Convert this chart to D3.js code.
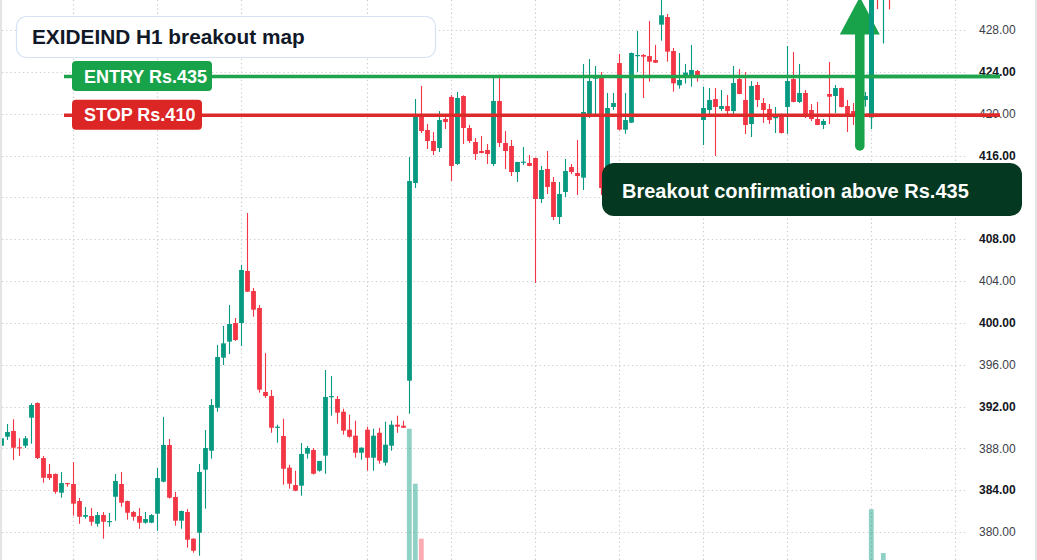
<!DOCTYPE html>
<html><head><meta charset="utf-8">
<script src="https://cdn.jsdelivr.net/npm/d3@7"></script>
<style>
html,body{margin:0;padding:0;background:#fff;overflow:hidden}
svg{display:block}
text{font-family:"Liberation Sans",Arial,Helvetica,sans-serif}
</style></head>
<body>
<svg id="chart" width="1037" height="560"></svg>
<script>
// ---- data (H1 bars, left to right) ----
const opens  = [388.25,389.11,389.66,388.10,388.25,390.93,392.33,387.07,385.55,385.55,383.76,384.68,384.59,382.96,381.46,381.53,380.79,381.62,380.98,383.37,
384.59,382.96,381.91,381.53,380.89,380.89,381.75,384.81,388.32,383.35,381.08,381.91,379.36,379.93,385.96,387.77,391.88,396.67,398.20,399.98,
399.98,404.96,403.04,401.42,393.39,393.00,389.97,389.18,386.15,384.49,384.43,387.49,387.84,385.86,387.30,392.91,392.72,391.50,389.78,389.21,
387.58,389.78,387.10,389.49,386.63,388.25,390.26,390.16,394.47,413.37,419.87,418.44,417.39,416.72,419.49,421.59,415.19,421.69,418.63,417.29,
416.43,416.53,415.19,421.21,417.20,416.91,414.42,415.31,415.28,415.76,411.84,414.71,413.47,410.12,412.51,414.90,414.33,413.88,419.78,423.34,
423.51,413.08,420.64,424.84,418.47,419.14,425.54,425.61,425.51,425.13,428.51,429.24,425.99,422.71,423.67,423.70,424.08,419.39,420.35,421.40,
420.45,420.73,420.25,423.31,421.31,419.01,422.74,421.02,420.45,419.59,419.97,420.64,423.31,421.12,421.98,420.35,419.49,418.92,421.88,421.69,
422.45,420.73,420.25,420.06,421.31,419.65,432.20,431.20,432.50];
const highs  = [389.08,390.33,390.78,388.96,389.18,392.31,392.40,387.27,386.50,385.60,385.74,384.70,386.69,383.25,382.39,382.29,381.91,381.91,381.82,385.55,
385.74,383.00,382.01,382.29,381.91,381.72,386.12,391.00,388.89,383.82,382.05,382.20,379.40,386.50,389.75,392.72,397.88,399.70,401.70,400.46,
405.53,410.50,403.33,401.70,397.11,393.58,390.26,390.83,386.43,385.86,388.51,388.22,388.03,386.80,395.49,394.92,393.00,391.79,391.22,390.64,
388.10,390.07,389.88,389.97,390.55,390.64,391.12,390.64,415.86,421.40,422.65,419.01,418.25,420.25,419.87,421.78,422.07,421.75,418.92,417.67,
417.86,417.10,423.53,423.73,418.34,417.48,415.40,416.81,416.05,415.80,415.00,416.43,413.94,413.47,415.67,415.19,417.48,424.75,425.23,424.56,
423.98,421.98,421.98,425.71,421.98,425.85,427.90,425.71,428.86,426.57,431.20,429.53,426.28,425.80,424.75,426.57,424.18,422.58,422.45,422.45,
422.26,421.78,424.56,424.27,423.98,423.12,423.03,421.50,420.92,420.64,420.00,426.47,425.90,424.75,422.26,420.92,421.12,419.49,424.94,422.74,
422.50,421.31,421.02,420.83,422.07,432.00,433.00,433.50,433.00];
const lows   = [388.13,388.80,386.88,387.27,388.03,388.44,386.98,384.71,384.97,383.66,383.28,384.33,381.56,380.79,381.27,380.60,380.51,379.36,380.51,381.08,
382.42,381.18,381.08,380.31,380.79,380.85,380.12,384.75,383.20,380.60,380.31,378.50,378.02,377.73,382.23,387.01,391.50,395.97,397.02,398.26,
397.78,402.95,400.59,393.32,392.81,389.49,388.54,384.52,384.14,383.90,383.47,387.01,385.50,385.77,385.57,391.12,390.36,389.30,389.02,387.10,
386.91,385.86,385.86,386.53,386.34,387.77,389.49,389.95,391.31,412.89,418.15,416.62,416.05,416.33,418.53,413.56,415.09,417.10,417.20,415.57,
416.20,415.19,415.00,416.81,414.71,414.04,413.47,415.09,414.98,403.81,411.46,412.32,409.83,409.45,412.03,414.23,412.22,412.70,419.59,419.97,
412.22,412.22,420.35,418.40,418.08,419.10,423.98,421.50,423.06,424.85,426.98,424.97,422.10,422.39,422.88,422.58,423.06,417.00,419.97,415.95,
420.25,419.97,419.97,421.85,418.06,417.77,420.64,419.11,419.01,418.15,418.10,418.06,421.10,421.02,419.59,419.30,418.90,418.53,419.01,420.06,
420.60,418.25,418.92,419.39,420.67,418.53,430.00,426.73,429.98];
const closes = [388.96,389.56,388.06,388.03,388.96,392.14,387.07,385.19,385.16,383.85,384.68,384.59,382.71,381.46,381.62,380.98,381.62,380.98,381.05,384.88,
382.80,381.84,381.46,380.89,381.24,381.62,385.16,388.32,383.28,381.08,382.01,379.26,378.21,385.74,388.03,392.14,396.73,398.04,399.89,398.36,
405.05,402.98,401.26,393.61,393.00,389.97,390.07,386.05,384.62,383.95,387.46,388.03,385.57,386.79,392.91,393.00,391.41,389.69,389.11,387.58,
388.06,387.10,389.21,386.82,388.35,390.26,390.07,389.97,413.56,419.87,418.34,417.39,416.43,419.39,419.20,415.00,421.50,418.63,417.39,416.14,
416.24,416.14,421.21,417.20,416.43,414.42,415.38,415.41,415.00,411.84,414.61,412.99,410.12,412.32,414.52,414.42,414.04,420.16,423.12,423.51,
412.89,420.54,421.02,418.47,419.39,425.80,425.61,425.45,424.97,424.87,429.41,425.93,422.90,423.22,423.92,424.18,423.67,420.54,421.31,420.64,
420.73,420.25,422.93,421.88,418.92,422.65,421.31,420.35,419.39,419.68,418.15,423.12,421.12,421.98,419.97,419.49,418.92,419.30,421.62,422.45,
420.64,419.97,419.87,419.78,421.69,431.40,431.20,432.50,431.50];
// volume in thousands of shares (most bars sit below the visible area)
const volumes = [320,280,410,260,240,520,600,430,300,350,290,180,470,380,210,260,230,340,200,450,
390,300,220,280,190,210,560,640,610,420,300,470,380,700,580,620,650,480,520,330,
600,680,430,690,410,480,250,520,360,300,470,240,330,210,620,300,280,330,260,340,
210,380,340,350,320,340,230,200,2400,1710,1020,520,480,560,260,690,610,500,300,330,
220,280,640,600,420,450,260,230,210,700,400,380,450,390,420,200,380,690,560,420,
720,640,300,600,420,650,380,250,430,200,660,560,520,360,240,330,220,480,300,450,
220,250,420,310,480,500,330,280,300,210,330,560,420,300,340,260,240,200,450,310,
330,360,250,260,230,1390,520,840,460];
const priceTicks = [428,424,420,416,412,408,404,400,396,392,388,384,380];
const timeGridBars = [12,26,40,61,75,89,103,117,131,145,159];
const titleText = "EXIDEIND H1 breakout map";
const entryLevel = 423.55, entryLabel = "ENTRY Rs.435";
const stopLevel = 419.85, stopLabel = "STOP Rs.410";
const noteText = "Breakout confirmation above Rs.435";
const arrowBar = 143;

// ---- scales ----
const svg = d3.select("#chart");
const W = 1037, H = 560, plotRight = 966;
const x = d3.scaleLinear().domain([0, 159]).range([1.3, 955.3]);
const y = d3.scaleLinear().domain([380, 428]).range([532, 30]);
const yVol = d3.scaleLinear().domain([0, 2400]).range([620, 428.7]);
const bars = closes.map((c, i) => ({i, o: opens[i], h: highs[i], l: lows[i], c, v: volumes[i]}));
const UP = "#089981", DOWN = "#f23645";

svg.append("rect").attr("width", W).attr("height", H).attr("fill", "#fff");

// grid
const grid = svg.append("g").attr("stroke", "#cdcdcd").attr("stroke-width", 1.2).attr("stroke-dasharray", "1.3 2.9");
grid.selectAll("line.h").data(priceTicks).join("line")
  .attr("x1", 2).attr("x2", plotRight).attr("y1", d => Math.round(y(d)) + 0.5).attr("y2", d => Math.round(y(d)) + 0.5);
grid.selectAll("line.v").data(timeGridBars).join("line")
  .attr("x1", d => Math.round(x(d)) + 0.5).attr("x2", d => Math.round(x(d)) + 0.5).attr("y1", 0).attr("y2", H);

// volume
svg.append("g").selectAll("rect").data(bars).join("rect")
  .attr("x", d => x(d.i) - 2.4).attr("width", 4.8)
  .attr("y", d => yVol(d.v)).attr("height", d => yVol(0) - yVol(d.v))
  .attr("fill", d => d.c >= d.o ? "rgba(8,153,129,0.45)" : "rgba(242,54,69,0.42)");

// candles
function drawCandles(data) {
  const cg = svg.append("g").selectAll("g").data(data).join("g");
  cg.append("line")
    .attr("x1", d => Math.round(x(d.i)) + 0.5).attr("x2", d => Math.round(x(d.i)) + 0.5)
    .attr("y1", d => y(d.h)).attr("y2", d => y(d.l))
    .attr("stroke", d => d.c >= d.o ? UP : DOWN).attr("stroke-width", 1.1);
  cg.append("rect")
    .attr("x", d => Math.round(x(d.i)) + 0.5 - 2.4).attr("width", 4.8)
    .attr("y", d => y(Math.max(d.o, d.c)))
    .attr("height", d => Math.max(1.2, Math.abs(y(d.o) - y(d.c))))
    .attr("fill", d => d.c >= d.o ? UP : DOWN);
}
drawCandles(bars);

// price axis labels
svg.append("g").selectAll("text").data(priceTicks).join("text")
  .attr("x", 979).attr("y", d => y(d)).attr("dy", "0.36em")
  .attr("font-size", 12)
  .attr("font-weight", d => d % 8 === 0 ? "bold" : "normal")
  .attr("fill", d => d % 8 === 0 ? "#131722" : "#3b3f4a")
  .text(d => d.toFixed(2));

// side borders
svg.append("rect").attr("x", 0).attr("y", 0).attr("width", 2).attr("height", H).attr("fill", "#e4e4e4");
svg.append("rect").attr("x", 1035).attr("y", 0).attr("width", 2).attr("height", H).attr("fill", "#e4e4e4");

// entry / stop lines
function levelLine(level, color, x1) {
  svg.append("line").attr("x1", x1).attr("x2", 1000).attr("y1", y(level)).attr("y2", y(level))
    .attr("stroke", color).attr("stroke-width", 3.6);
}
levelLine(entryLevel, "#1ea44c", 64);
levelLine(stopLevel, "#dc2a2a", 64);

function tag(text, fill, level, w) {
  const cy = y(level) - 0.5;
  svg.append("rect").attr("x", 72).attr("y", cy - 15).attr("width", w).attr("height", 30).attr("rx", 4)
    .attr("fill", fill);
  svg.append("text").attr("x", 84).attr("y", cy + 6.5).attr("font-size", 18).attr("font-weight", "bold")
    .attr("fill", "#fff").text(text);
}
tag(entryLabel, "#18a34a", entryLevel, 140);
tag(stopLabel, "#dc2626", stopLevel, 130);

// title box
svg.append("rect").attr("x", 16.5).attr("y", 16.5).attr("width", 419).attr("height", 41).attr("rx", 10)
  .attr("fill", "#fff").attr("stroke", "#d5e3f5").attr("stroke-width", 1.2);
svg.append("text").attr("x", 32).attr("y", 44.3).attr("font-size", 20.8).attr("font-weight", "bold")
  .attr("fill", "#111827").text(titleText);

// annotation box
svg.append("rect").attr("x", 602).attr("y", 163).attr("width", 420).attr("height", 53).attr("rx", 12)
  .attr("fill", "#053821");
svg.append("text").attr("x", 622).attr("y", 198).attr("font-size", 20).attr("font-weight", "bold")
  .attr("fill", "#fff").text(noteText);

// breakout arrow
const ax = x(arrowBar) + 0.5;
svg.append("line").attr("x1", ax).attr("x2", ax).attr("y1", 146).attr("y2", 30)
  .attr("stroke", "#18a34a").attr("stroke-width", 9.5).attr("stroke-linecap", "round");
svg.append("path").attr("d", `M${ax - 20},34.5 L${ax + 20},34.5 L${ax},-3 Z`).attr("fill", "#18a34a");

// bars right of the arrow shaft sit above the arrow head, the level lines above them
drawCandles(bars.filter(d => d.i > arrowBar + 1));
levelLine(entryLevel, "#1ea44c", ax + 6);
levelLine(stopLevel, "#dc2a2a", ax + 6);
</script>
</body></html>
